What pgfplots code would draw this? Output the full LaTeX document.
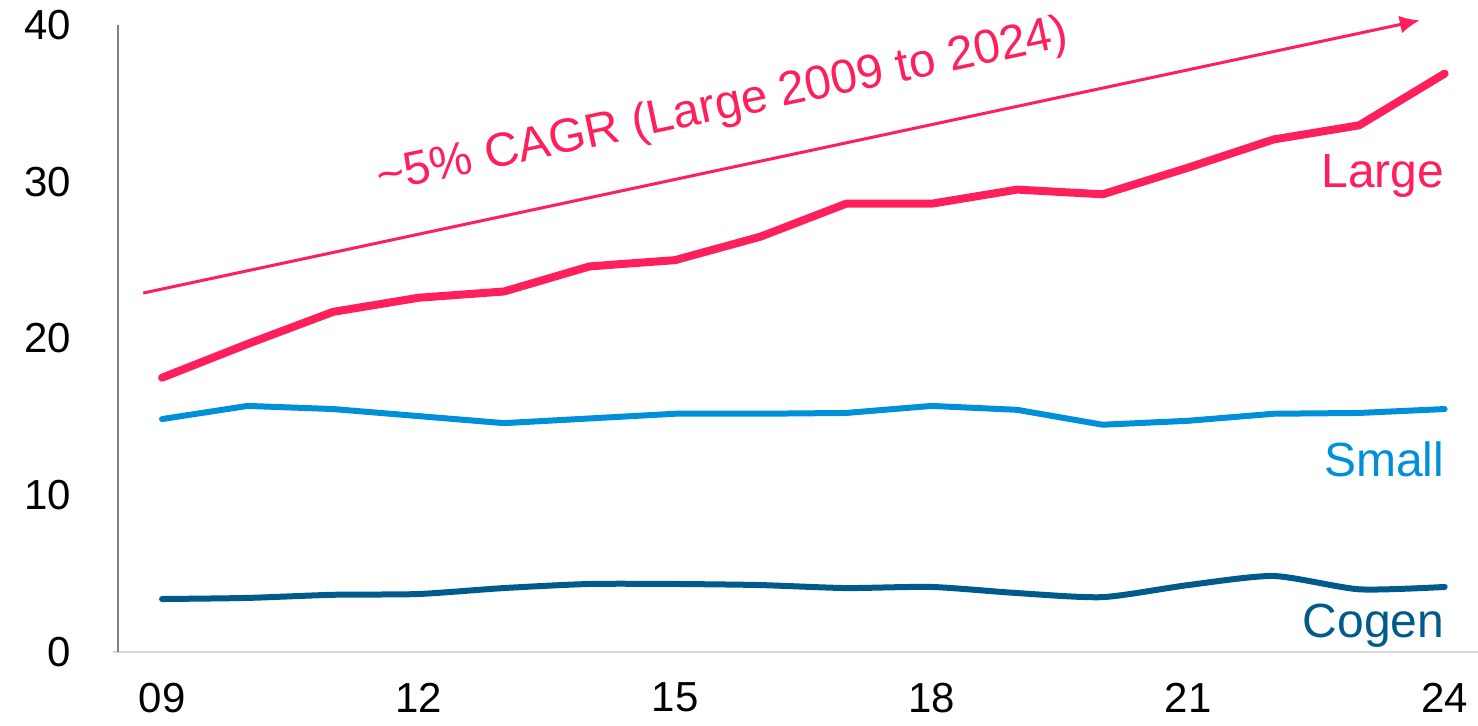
\documentclass[border=0pt]{standalone}
\usepackage{pgfplots}
\pgfplotsset{compat=1.18}
\usetikzlibrary{arrows.meta}
\usepackage{fontspec}
\setmainfont{Liberation Sans}
\definecolor{cLarge}{HTML}{FF1F5A}
\definecolor{cSmall}{HTML}{0090D9}
\definecolor{cCogen}{HTML}{005A8C}
\begin{document}
\begin{tikzpicture}
\begin{axis}[
  name=ax,
  scale only axis,
  width=680pt, height=313.5pt,
  xmin=8.485, xmax=24.39,
  ymin=0, ymax=40,
  clip=false,
  axis x line*=bottom, axis y line*=left,
  x axis line style={draw=black!15, line width=0.8pt, shorten <=-2.5pt},
  y axis line style={draw=black!50, line width=0.6pt},
  xtick={9,12,15,18,21,24},
  xticklabels={09,12,15,18,21,24},
  ytick={0,10,20,30,40},
  major tick length=0pt,
  tick label style={font=\fontsize{21}{25}\selectfont, text=black},
  /pgf/number format/assume math mode=true,
  yticklabel style={xshift=-20pt},
  xticklabel style={yshift=-12pt},
]
\addplot[cLarge, line width=4pt, line join=round, line cap=round] coordinates {
(9,17.5) (10,19.65) (11,21.7) (12,22.6) (13,23.0) (14,24.6) (15,25.0) (16,26.5)
(17,28.6) (18,28.6) (19,29.5) (20,29.2) (21,30.9) (22,32.7) (23,33.6) (24,36.9)};
\addplot[cSmall, line width=3pt, line join=round, line cap=round] coordinates {
(9,14.86) (10,15.7) (11,15.5) (12,15.05) (13,14.6) (14,14.9) (15,15.2) (16,15.2)
(17,15.25) (18,15.7) (19,15.45) (20,14.5) (21,14.75) (22,15.2) (23,15.25) (24,15.5)};
\addplot[cCogen, line width=3pt, smooth, tension=0.4, line cap=round] coordinates {
(9,3.38) (10,3.45) (11,3.65) (12,3.7) (13,4.08) (14,4.34) (15,4.34) (16,4.27)
(17,4.08) (18,4.15) (19,3.76) (20,3.5) (21,4.27) (22,4.85) (23,4.0) (24,4.15)};
\addplot[cLarge, line width=1.5pt, -{Latex[length=10pt,width=9pt]}] coordinates {(8.78,22.9) (23.71,40.3)};
\node[text=cLarge, rotate=12, font=\fontsize{23.8}{28}\selectfont] at (axis cs:15.56,34.77) {\textasciitilde5\% CAGR (Large 2009 to 2024)};
\node[text=cLarge, anchor=east, inner sep=0pt, font=\fontsize{24}{28}\selectfont] at (axis cs:24,30.4) {Large};
\node[text=cSmall, anchor=east, inner sep=0pt, font=\fontsize{24}{28}\selectfont] at (axis cs:24,12.3) {Small};
\node[text=cCogen, anchor=east, inner sep=0pt, font=\fontsize{24}{28}\selectfont] at (axis cs:24,1.7) {Cogen};
\end{axis}
\pgfresetboundingbox
\path (ax.south west) ++(-59pt,-36.5pt) coordinate (bl);
\path (ax.south west) ++(680pt,326pt) coordinate (tr);
\path (bl) rectangle (tr);
\end{tikzpicture}
\end{document}
